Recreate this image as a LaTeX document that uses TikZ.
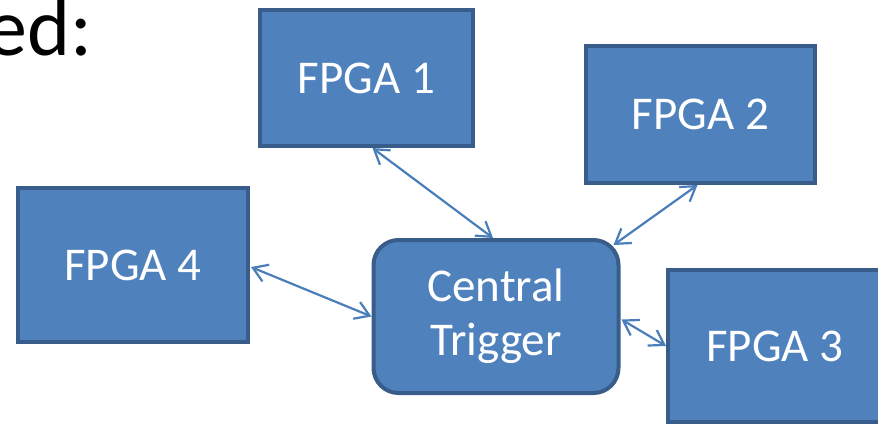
\documentclass[tikz,border=0pt]{standalone}
\usepackage{fontspec}
\setmainfont{Carlito}
\usetikzlibrary{arrows.meta,calc}
\definecolor{boxfill}{HTML}{4F81BD}
\definecolor{boxline}{HTML}{385D8A}
\definecolor{linkcol}{HTML}{4A7EBB}
\tikzset{
  fpga/.style={draw=boxline, fill=boxfill, line width=4pt, text=white,
    font=\fontsize{47}{54}\selectfont, inner sep=0pt, align=center},
  link/.style={draw=linkcol, line width=2.2pt,
    {Straight Barb[length=14pt,width=18pt,line width=2.2pt]}-{Straight Barb[length=14pt,width=18pt,line width=2.2pt]}}
}
\begin{document}
\begin{tikzpicture}[x=1pt,y=-1pt]
\useasboundingbox (0,0) rectangle (878,424);
\node[anchor=base east, font=\fontsize{82}{88}\selectfont, inner sep=0pt] (head) at (93,55) {ed:};
\node[fpga, minimum width=213pt, minimum height=136pt] (f1) at (366.5,78) {FPGA 1};
\node[fpga, minimum width=229pt, minimum height=137pt] (f2) at (700.5,114.5) {FPGA 2};
\node[fpga, minimum width=230pt, minimum height=154pt] (f4) at (133,265) {FPGA 4};
\node[fpga, minimum width=214pt, minimum height=152pt] (f3) at (775,346) {FPGA 3};
\node[fpga, rounded corners=25pt, minimum width=245pt, minimum height=153pt] (ct) at (496,316.5) {Central\\Trigger};
\draw[link] ($(f1.south)+(6,0)$) -- ($(ct.north)+(-3,0)$);
\draw[link] ($(f2.south)+(-3,0)$) -- ($(ct.north east)+(-7,7)$);
\draw[link] ($(f4.east)+(1,2)$) -- (ct.west);
\draw[link] ($(ct.east)+(1,3)$) -- (f3.west);
\end{tikzpicture}
\end{document}
